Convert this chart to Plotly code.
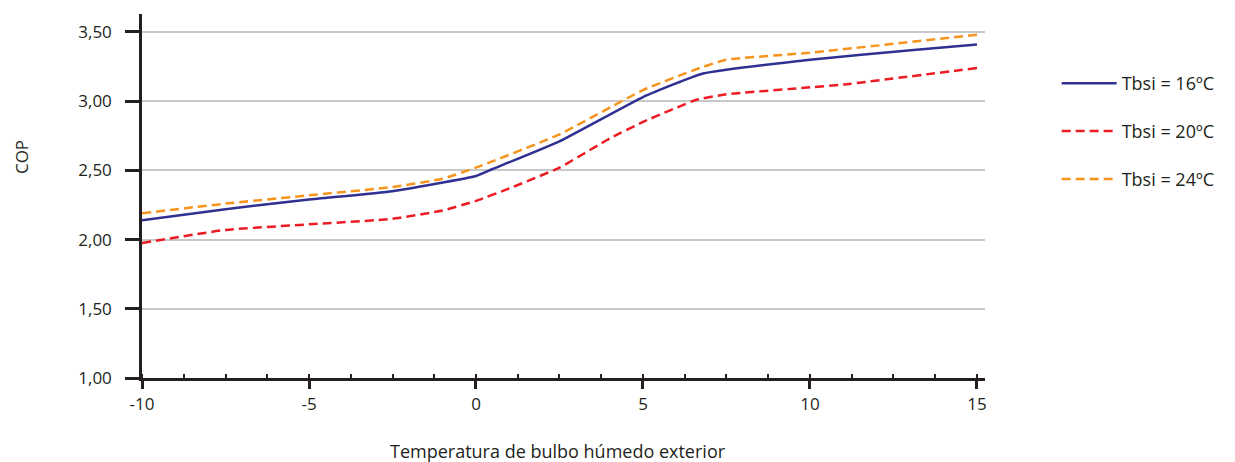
import plotly.graph_objects as go

# Tbsi = 16ºC
x16 = [-10, -7.5, -5, -2.5, 0, 0.5, 2.5, 5, 6.8, 10, 13.1, 15]
cop16 = [2.14, 2.22, 2.29, 2.35, 2.46, 2.51, 2.71, 3.03, 3.20, 3.30, 3.37, 3.41]

# Tbsi = 20ºC
x20 = [-10, -7.5, -5, -2.5, -1, 0, 1, 2.5, 4, 5, 6.6, 7.5, 10, 11, 15]
cop20 = [1.975, 2.07, 2.11, 2.15, 2.21, 2.28, 2.37, 2.52, 2.73, 2.85, 3.01, 3.05, 3.10, 3.12, 3.24]

# Tbsi = 24ºC
x24 = [-10, -7.5, -5, -2.5, -1, 0, 2.5, 5, 6.7, 7.5, 10, 15]
cop24 = [2.19, 2.26, 2.32, 2.38, 2.44, 2.52, 2.76, 3.08, 3.24, 3.30, 3.35, 3.48]

xticks = [-10, -5, 0, 5, 10, 15]
xticktext = ["-10", "-5", "0", "5", "10", "15"]
xgrid = [-5, 0, 5, 10]
yticks = [1.0, 1.5, 2.0, 2.5, 3.0, 3.5]

ink = "#231f20"
font = "Open Sans"
curve = dict(shape="spline", smoothing=0.4, width=2.5)

fig = go.Figure()
fig.add_trace(go.Scatter(x=x16, y=cop16, mode="lines", name="Tbsi = 16ºC",
                         line=dict(curve, color="#2e3192"), xaxis="x2", legendgroup="a"))
fig.add_trace(go.Scatter(x=x20, y=cop20, mode="lines", name="Tbsi = 20ºC",
                         line=dict(curve, color="#ed1c24", dash="9px,5px"), xaxis="x2", legendgroup="b"))
fig.add_trace(go.Scatter(x=x24, y=cop24, mode="lines", name="Tbsi = 24ºC",
                         line=dict(curve, color="#f7941d", dash="9px,5px"), xaxis="x2", legendgroup="c"))

xrange = [-10, 15.24]
# page body has an 8px margin, so the figure is a bit smaller than the window
fig.update_layout(
    width=1227, height=454,
    margin=dict(l=134, r=250, t=6, b=84),
    plot_bgcolor="white", paper_bgcolor="white",
    separators=", ",
    font=dict(family=font, size=17, color=ink),
    # grid-only axis
    xaxis=dict(range=xrange, tickvals=xgrid, showgrid=True, gridcolor="#c8c8c8", gridwidth=1.5,
               showticklabels=False, ticks="", zeroline=False, showline=False),
    # visible axis carrying the data
    xaxis2=dict(range=xrange, overlaying="x", side="bottom", anchor="y",
                tickvals=xticks, ticktext=xticktext, showgrid=False, zeroline=False,
                showline=True, linecolor=ink, linewidth=2.5,
                ticks="outside", ticklen=8, tickwidth=2.5, tickcolor=ink,
                minor=dict(ticks="inside", dtick=1.25, tick0=-10, ticklen=4, tickwidth=2, tickcolor=ink),
                tickfont=dict(size=17, color=ink), ticklabelstandoff=1),
    yaxis=dict(range=[1.0, 3.63], tickvals=yticks, tickformat=".2f",
               showgrid=True, gridcolor="#c8c8c8", gridwidth=1.5, zeroline=False,
               showline=True, linecolor=ink, linewidth=2.5,
               ticks="outside", ticklen=14, tickwidth=2.5, tickcolor=ink,
               tickfont=dict(size=17, color=ink), ticklabelstandoff=10),
    legend=dict(x=1.085, y=0.86, xanchor="left", yanchor="top",
                font=dict(size=18, color=ink), tracegroupgap=21.5, itemwidth=55,
                bgcolor="rgba(0,0,0,0)"),
    annotations=[
        dict(text="COP", xref="paper", yref="paper", x=-0.1435, y=0.607,
             showarrow=False, textangle=-90, font=dict(size=17, color=ink),
             xanchor="center", yanchor="middle"),
        dict(text="Temperatura de bulbo húmedo exterior", xref="paper", yref="paper",
             x=0.4935, y=-0.2, showarrow=False, font=dict(size=18, color=ink),
             xanchor="center", yanchor="middle"),
    ],
)

fig.write_html("out.html")
